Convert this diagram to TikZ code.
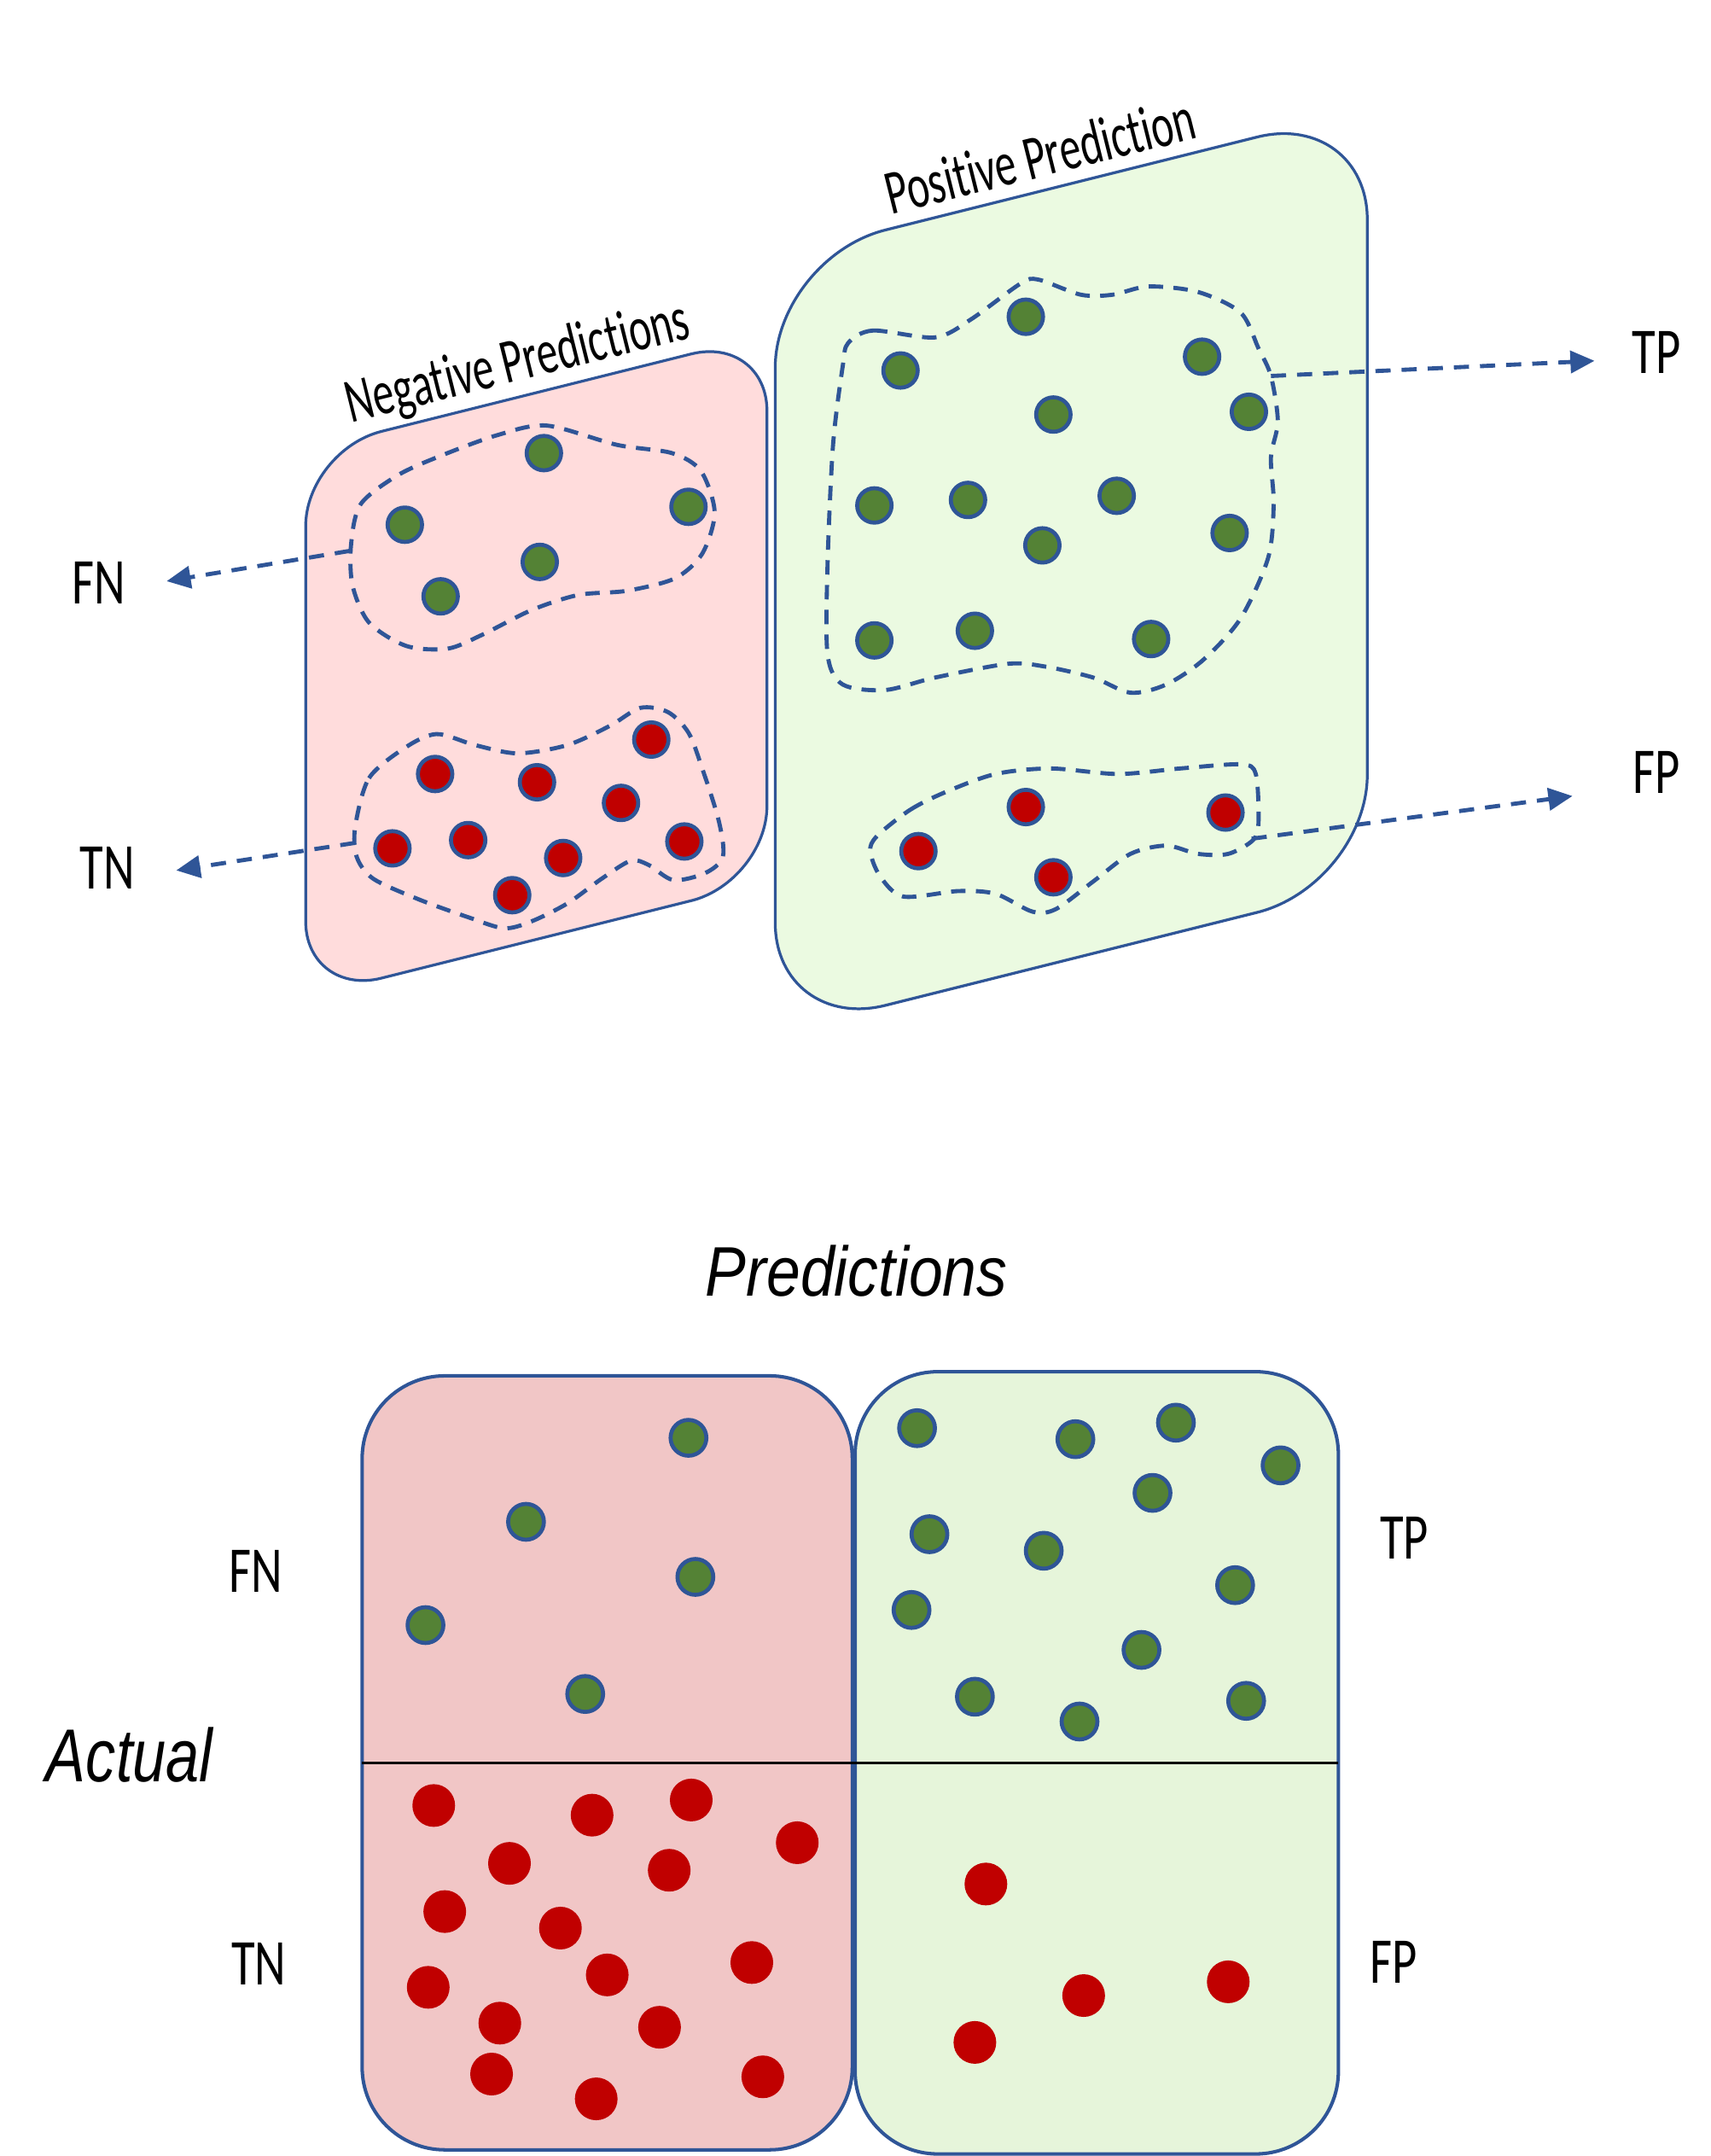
\documentclass[tikz,border=0pt]{standalone}
\usepackage{fontspec}
\usepackage{graphicx}
\setmainfont{Carlito}[Ligatures=NoCommon]
\newfontfamily\headfont{Liberation Sans}
\usetikzlibrary{arrows.meta}

\definecolor{edgeblue}{RGB}{47,85,151}
\definecolor{negfill}{RGB}{255,220,220}
\definecolor{posfill}{RGB}{235,250,225}
\definecolor{negbox}{RGB}{241,198,198}
\definecolor{posbox}{RGB}{230,245,218}
\definecolor{dotgreen}{RGB}{84,130,53}
\definecolor{dotred}{RGB}{192,0,0}

% slanted rounded panel: x0, y0, width, height, radius, style
\newcommand{\slantpanel}[6]{%
  \pgfmathsetmacro\pw{#3}\pgfmathsetmacro\ph{#4}%
  \pgfmathsetmacro\pr{#5}\pgfmathsetmacro\pq{0.4477*#5}%
  \begin{scope}[shift={(#1,#2)}, yslant=0.25]
    \draw[#6] (0,\pr) -- (0,{\ph-\pr})
      .. controls (0,{\ph-\pq}) and (\pq,\ph) .. (\pr,\ph)
      -- ({\pw-\pr},\ph)
      .. controls ({\pw-\pq},\ph) and (\pw,{\ph-\pq}) .. (\pw,{\ph-\pr})
      -- (\pw,\pr)
      .. controls (\pw,\pq) and ({\pw-\pq},0) .. ({\pw-\pr},0)
      -- (\pr,0)
      .. controls (\pq,0) and (0,\pq) .. (0,\pr) -- cycle;
  \end{scope}}

\begin{document}
\begin{tikzpicture}[x=0.1mm, y=-0.1mm]
  \useasboundingbox (0,0) rectangle (1242,1565.5);

  \tikzset{gdot/.style={circle,draw=edgeblue,fill=dotgreen,line width=0.29mm,minimum size=2.5mm,inner sep=0}}
  \tikzset{rdot/.style={gdot,fill=dotred}}
  \tikzset{gdotb/.style={gdot,minimum size=2.6mm}}
  \tikzset{rdotb/.style={circle,draw=none,fill=dotred,minimum size=3.1mm,inner sep=0}}
  \tikzset{blob/.style={draw=edgeblue,line width=0.3mm,dash pattern=on 1.05mm off 0.75mm}}
  \tikzset{pointer/.style={draw=edgeblue,line width=0.3mm,dash pattern=on 1.1mm off 0.8mm,
                           -{Triangle[length=1.75mm,width=1.6mm]}}}
  \tikzset{outcome/.style={inner sep=0,font=\fontsize{13.5}{15}\selectfont}}
  \tikzset{plane title/.style={inner sep=0,anchor=base,rotate=14,font=\fontsize{13}{15}\selectfont}}
  \tikzset{axis title/.style={inner sep=0,anchor=base,font=\headfont\itshape}}

  %% top: slanted planes
  \slantpanel{222}{327}{335}{397}{55}{draw=edgeblue,fill=negfill,line width=0.2mm}
  \slantpanel{563}{187}{430}{563}{80}{draw=edgeblue,fill=posfill,line width=0.2mm}

  \node[plane title] (negtitle) at (379,276) {\scalebox{0.67}[1]{Negative Predictions}};
  \node[plane title] (postitle) at (759,128) {\scalebox{0.67}[1]{Positive Prediction}};

  % dashed groups
  \draw[blob] plot[smooth cycle] coordinates {(255,395) (262,366) (289,345) (320,331) (361,316)
    (397,309) (448,323) (488,329) (509,342) (519,372) (510,402) (490,420) (455,429) (420,432)
    (386,443) (350,461) (325,471) (295,469) (268,452) (256,425)};
  \draw[blob] plot[smooth cycle] coordinates {(258,600) (268,565) (294,543) (317,533) (345,541)
    (376,547) (412,541) (443,527) (465,514) (485,517) (500,532) (510,558) (522,596) (525,622)
    (512,634) (489,639) (471,628) (458,625) (437,638) (412,656) (386,669) (366,674) (340,666)
    (304,653) (271,638) (259,622)};
  \draw[blob] plot[smooth cycle] coordinates {(616,249) (634,240) (679,245) (705,232) (741,206)
    (754,203) (785,214) (808,214) (834,208) (870,212) (901,227) (914,253) (923,273) (928,306)
    (923,332) (925,366) (921,405) (901,449) (874,479) (847,497) (821,503) (794,492) (759,484)
    (732,482) (679,492) (643,501) (612,497) (601,475) (601,410) (605,323) (612,266)};
  \draw[blob] plot[smooth cycle] coordinates {(637,607) (661,588) (687,575) (723,562) (763,558)
    (812,562) (857,558) (901,555) (912,562) (914,597) (910,610) (892,620) (870,620) (847,614)
    (821,620) (794,640) (767,660) (750,662) (723,649) (696,647) (656,651) (639,636) (632,618)};

  % dots in the planes
  \foreach \p [count=\i] in {(395,329),(294,381),(500,368),(392,408),(320,433)}
    \node[gdot] (fn\i) at \p {};
  \foreach \p [count=\i] in {(473,537),(316,562),(390,568),(451,583),(285,616),(340,610),
                             (409,623),(497,611),(372,650)}
    \node[rdot] (tn\i) at \p {};
  \foreach \p [count=\i] in {(745,230),(654,269),(873,259),(765,301),(907,299),(635,367),(703,363),
                             (811,360),(757,396),(893,387),(635,465),(708,458),(836,464)}
    \node[gdot] (tp\i) at \p {};
  \foreach \p [count=\i] in {(745,586),(667,618),(890,590),(765,637)}
    \node[rdot] (fp\i) at \p {};

  % outcome labels and pointers
  \node[outcome] (FN) at (72,423) {\scalebox{0.74}[1]{FN}};
  \node[outcome] (TN) at (78,630) {\scalebox{0.74}[1]{TN}};
  \node[outcome] (TP) at (1203,256) {\scalebox{0.74}[1]{TP}};
  \node[outcome] (FP) at (1203,561) {\scalebox{0.74}[1]{FP}};

  \coordinate (fn from) at (254,400);  \coordinate (fn tip) at (121,422);
  \coordinate (tn from) at (258,612);  \coordinate (tn tip) at (128,632);
  \coordinate (tp from) at (923,273);  \coordinate (tp tip) at (1158,262);
  \coordinate (fp from) at (909,609);  \coordinate (fp tip) at (1142,578);

  \draw[pointer] (fn from) -- (fn tip);
  \draw[pointer] (tn from) -- (tn tip);
  \draw[pointer] (tp from) -- (tp tip);
  \draw[pointer] (fp from) -- (fp tip);

  %% bottom: confusion matrix
  \draw[draw=edgeblue,fill=negbox,line width=0.25mm,rounded corners=6mm] (263,999) rectangle (619,1561);
  \draw[draw=edgeblue,fill=posbox,line width=0.25mm,rounded corners=6mm] (621,996) rectangle (972,1564);
  \draw[line width=0.17mm] (263,1280) -- (972,1280);

  \node[axis title,font=\headfont\itshape\fontsize{14.5}{17}\selectfont] (pred) at (622,941)
       {\scalebox{0.87}[1]{Predictions}};
  \node[axis title,font=\headfont\itshape\fontsize{15.5}{18}\selectfont] (actual) at (94,1294)
       {\scalebox{0.8}[1]{Actual}};

  \foreach \p [count=\i] in {(500,1044),(382,1105),(505,1145),(309,1180),(425,1230)}
    \node[gdotb] (mfn\i) at \p {};
  \foreach \p [count=\i] in {(666,1037),(781,1045),(854,1033),(930,1064),(837,1084),(675,1114),
                             (758,1126),(897,1151),(662,1169),(829,1198),(708,1232),(784,1250),(905,1235)}
    \node[gdotb] (mtp\i) at \p {};
  \foreach \p [count=\i] in {(315,1311),(430,1318),(502,1307),(579,1338),(370,1353),(486,1358),
                             (323,1388),(407,1400),(546,1425),(441,1434),(311,1443),(363,1469),
                             (479,1472),(357,1506),(554,1508),(433,1524)}
    \node[rdotb] (mtn\i) at \p {};
  \foreach \p [count=\i] in {(716,1368),(787,1449),(892,1439),(708,1483)}
    \node[rdotb] (mfp\i) at \p {};

  \node[outcome] (mFN) at (186,1141) {\scalebox{0.74}[1]{FN}};
  \node[outcome] (mTN) at (188,1426) {\scalebox{0.74}[1]{TN}};
  \node[outcome] (mTP) at (1020,1117) {\scalebox{0.74}[1]{TP}};
  \node[outcome] (mFP) at (1012,1425) {\scalebox{0.74}[1]{FP}};
\end{tikzpicture}
\end{document}
